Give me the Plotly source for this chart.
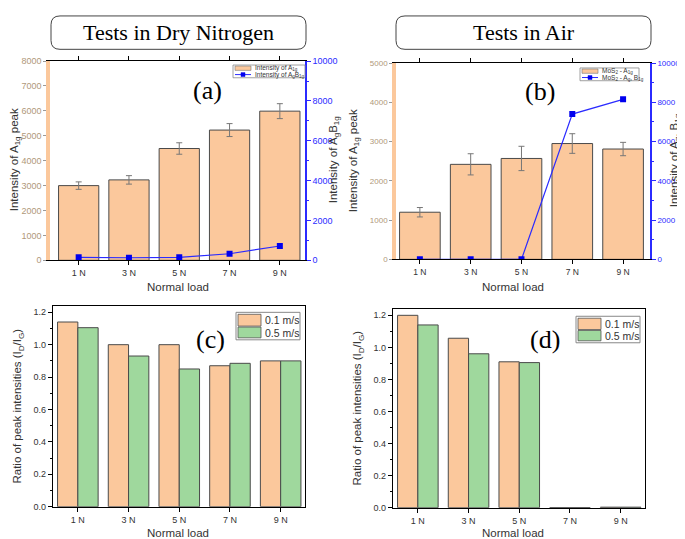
import plotly.graph_objects as go

loads = ["1 N", "3 N", "5 N", "7 N", "9 N"]
# (a) dry nitrogen
a_a1g = [3000, 3230, 4490, 5230, 5990]
a_a1g_err = [150, 170, 230, 260, 300]
a_agb1g = [150, 130, 150, 330, 720]
# (b) air
b_a1g = [1200, 2420, 2570, 2950, 2810]
b_a1g_err = [120, 270, 310, 250, 170]
b_agb1g = [0, 0, 0, 7400, 8150]
# (c) ratio dry nitrogen
c_01 = [1.14, 1.0, 1.0, 0.87, 0.9]
c_05 = [1.105, 0.93, 0.85, 0.885, 0.9]
# (d) ratio air
d_01 = [1.2, 1.057, 0.91, 0.0, 0.003]
d_05 = [1.14, 0.96, 0.905, 0.0, 0.003]

W, H = 685, 539
ORANGE = "#fbc89c"
GREEN = "#9fd89d"
BLUE = "#2b2bff"
TAN = "#b0987a"
EDGE = "#4a4a4a"
SANS = "Liberation Sans, Arial, sans-serif"
SERIF = "Liberation Serif, Times New Roman, serif"


def px(x0, x1):
    return [x0 / W, x1 / W]


def py(top, bottom):
    return [1 - bottom / H, 1 - top / H]


fig = go.Figure()

# ---- (a)
fig.add_trace(go.Bar(x=loads, y=a_a1g, name="Intensity of A<sub>1g</sub>",
                     marker=dict(color=ORANGE, line=dict(color=EDGE, width=1)),
                     error_y=dict(type="data", array=a_a1g_err, color="#777777", thickness=1, width=3),
                     xaxis="x", yaxis="y"))
fig.add_trace(go.Scatter(x=loads, y=a_agb1g, name="Intensity of A<sub>g</sub>B<sub>1g</sub>",
                         mode="lines+markers", line=dict(color=BLUE, width=1.2),
                         marker=dict(symbol="square", size=6, color="#0000ee"),
                         xaxis="x", yaxis="y2"))
# ---- (b)
fig.add_trace(go.Bar(x=loads, y=b_a1g, name="MoS<sub>2</sub> - A<sub>1g</sub>",
                     marker=dict(color=ORANGE, line=dict(color=EDGE, width=1)),
                     error_y=dict(type="data", array=b_a1g_err, color="#777777", thickness=1, width=3),
                     xaxis="x2", yaxis="y3"))
fig.add_trace(go.Scatter(x=loads, y=b_agb1g, name="MoS<sub>2</sub> - A<sub>g</sub>, B<sub>1g</sub>",
                         mode="lines+markers", line=dict(color=BLUE, width=1.2),
                         marker=dict(symbol="square", size=6, color="#0000ee"),
                         xaxis="x2", yaxis="y4"))
# ---- (c)
fig.add_trace(go.Bar(x=loads, y=c_01, name="0.1 m/s",
                     marker=dict(color=ORANGE, line=dict(color=EDGE, width=1)),
                     xaxis="x3", yaxis="y5"))
fig.add_trace(go.Bar(x=loads, y=c_05, name="0.5 m/s",
                     marker=dict(color=GREEN, line=dict(color=EDGE, width=1)),
                     xaxis="x3", yaxis="y5"))
# ---- (d)
fig.add_trace(go.Bar(x=loads, y=d_01, name="0.1 m/s",
                     marker=dict(color=ORANGE, line=dict(color=EDGE, width=1)),
                     xaxis="x4", yaxis="y6"))
fig.add_trace(go.Bar(x=loads, y=d_05, name="0.5 m/s",
                     marker=dict(color=GREEN, line=dict(color=EDGE, width=1)),
                     xaxis="x4", yaxis="y6"))

tickf = dict(family=SANS, size=9, color="#333333")


def xax(domain, anchor, rng, mirror, fs=9):
    return dict(domain=domain, anchor=anchor, type="category", range=rng,
                showline=True, linecolor="black", linewidth=1.2, mirror=mirror,
                ticks="outside", ticklen=4, tickcolor="black",
                tickfont=dict(family=SANS, size=fs, color="#333333"),
                showgrid=False, zeroline=False, fixedrange=True)


def left_int(domain, anchor, top, fs):
    return dict(domain=domain, anchor=anchor, range=[0, top], dtick=1000, tickformat="d",
                showline=True, linecolor=ORANGE, linewidth=3.5, ticks="outside",
                ticklen=3, tickcolor="#999999", tickfont=dict(family=SANS, size=fs, color=TAN),
                showgrid=False, zeroline=False)


def right_int(over, anchor, fs):
    return dict(overlaying=over, side="right", anchor=anchor, range=[0, 10000], dtick=2000,
                tickformat="d", showline=True, linecolor=BLUE, linewidth=1.6, ticks="outside",
                ticklen=4, tickcolor=BLUE, tickfont=dict(family=SANS, size=fs, color=BLUE),
                minor=dict(ticks="outside", ticklen=2, dtick=1000, tickcolor=BLUE),
                showgrid=False, zeroline=False)


def ratio_ax(domain, anchor, top):
    return dict(domain=domain, anchor=anchor, range=[0, top], dtick=0.2, tickformat=".1f",
                showline=True, linecolor="black", linewidth=1.2, mirror=True, ticks="outside",
                ticklen=4, tickcolor="black", tickfont=tickf,
                minor=dict(ticks="outside", ticklen=2, dtick=0.1, tickcolor="black"),
                showgrid=False, zeroline=False)


lay = dict(
    width=W, height=H, margin=dict(l=0, r=0, t=0, b=0),
    paper_bgcolor="white", plot_bgcolor="white",
    barmode="group", bargap=0.2, bargroupgap=0.0, showlegend=False,
    font=dict(family=SANS, color="#333333"),
)
lay["xaxis"] = xax(px(42, 297), "y", [-0.57, 4.5], "ticks")
lay["yaxis"] = left_int(py(49, 252), "x", 8000, 9)
lay["yaxis2"] = right_int("y", "x", 9)
lay["xaxis2"] = xax(px(388, 642), "y3", [-0.47, 4.53], "ticks", 8.5)
lay["yaxis3"] = left_int(py(51, 251), "x2", 5000, 8)
lay["yaxis4"] = right_int("y3", "x2", 8)
lay["xaxis3"] = xax(px(45, 297), "y5", [-0.49, 4.48], True)
lay["yaxis5"] = ratio_ax(py(299, 503), "x3", 1.236)
lay["xaxis4"] = xax(px(385, 637), "y6", [-0.49, 4.48], True)
lay["yaxis6"] = ratio_ax(py(302, 504), "x4", 1.237)
fig.update_layout(**lay)


def rounded_box(x0, y0, x1, y1, r=9):
    X0, X1 = x0 / W, x1 / W
    Y0, Y1 = 1 - y0 / H, 1 - y1 / H
    rx, ry = r / W, r / H
    return (f"M {X0 + rx},{Y0} L {X1 - rx},{Y0} Q {X1},{Y0} {X1},{Y0 - ry} "
            f"L {X1},{Y1 + ry} Q {X1},{Y1} {X1 - rx},{Y1} L {X0 + rx},{Y1} "
            f"Q {X0},{Y1} {X0},{Y1 + ry} L {X0},{Y0 - ry} Q {X0},{Y0} {X0 + rx},{Y0} Z")


for (x0, x1) in [(43, 298), (388, 643)]:
    fig.add_shape(type="path", path=rounded_box(x0, 3, x1, 37), xref="paper", yref="paper",
                  line=dict(color="#444", width=1), fillcolor="white", layer="below")


def prect(x0, y0, x1, y1, fill, line="#888", lw=1):
    fig.add_shape(type="rect", xref="paper", yref="paper",
                  x0=x0 / W, x1=x1 / W, y0=1 - y1 / H, y1=1 - y0 / H,
                  fillcolor=fill, line=dict(color=line, width=lw), layer="above")


def pline(x0, y0, x1, y1, col, lw=1):
    fig.add_shape(type="line", xref="paper", yref="paper",
                  x0=x0 / W, x1=x1 / W, y0=1 - y0 / H, y1=1 - y1 / H,
                  line=dict(color=col, width=lw), layer="above")


def text(t, x, y, size, fam=SANS, col="#333", xanchor="center", angle=0):
    fig.add_annotation(text=t, x=x / W, y=1 - y / H, xref="paper", yref="paper",
                       showarrow=False, xanchor=xanchor, yanchor="middle", textangle=angle,
                       font=dict(family=fam, size=size, color=col))


# small legends for (a) and (b)
def small_legend(x0, y0, x1, y1, labels):
    prect(x0, y0, x1, y1, "white", "#888", 0.8)
    rh = (y1 - y0) / 2
    r1 = y0 + rh / 2
    r2 = y0 + rh * 1.5
    prect(x0 + 2, r1 - 2.2, x0 + 18, r1 + 2.2, ORANGE, "#777", 0.6)
    pline(x0 + 2, r2, x0 + 18, r2, BLUE, 1)
    prect(x0 + 8, r2 - 2, x0 + 12, r2 + 2, "#0000ee", "#0000ee", 0.5)
    text(labels[0], x0 + 20, r1, 6.5, xanchor="left")
    text(labels[1], x0 + 20, r2 + 0.5, 6.5, xanchor="left")


small_legend(225, 53, 297, 66, [fig.data[0].name, fig.data[1].name])
small_legend(572, 56, 631, 69, [fig.data[2].name, fig.data[3].name])


def big_legend(x0, y0, x1, y1, labels):
    prect(x0, y0, x1, y1, "white", "#888", 1)
    rh = (y1 - y0) / 2
    prect(x0 + 2, y0 + 2, x0 + 25, y0 + rh, ORANGE, "#555", 0.8)
    prect(x0 + 2, y0 + rh + 1, x0 + 25, y1 - 2, GREEN, "#555", 0.8)
    text(labels[0], x0 + 27, y0 + rh / 2 + 1, 10.5, xanchor="left")
    text(labels[1], x0 + 27, y0 + rh * 1.5, 10.5, xanchor="left")


big_legend(228, 305, 292, 333, [fig.data[4].name, fig.data[5].name])
big_legend(568, 309, 632, 336, [fig.data[6].name, fig.data[7].name])

# titles and labels
text("Tests in Dry Nitrogen", 170.5, 20, 22, SERIF, "black")
text("Tests in Air", 515.5, 20, 22, SERIF, "black")
text("(a)", 200, 79, 26, SERIF, "black")
text("(b)", 532, 80, 26, SERIF, "black")
text("(c)", 202, 333, 26, SERIF, "black")
text("(d)", 537, 333, 26, SERIF, "black")
for (x, y) in [(170, 279), (505, 279), (170, 530), (505, 530)]:
    text("Normal load", x, y, 11.5)

text("Intensity of A<sub>1g</sub> peak", 7, 150, 11.5, angle=-90)
text("Intensity of A<sub>g</sub>B<sub>1g</sub>", 326, 150, 11.5, angle=-90)
text("Intensity of A<sub>1g</sub> peak", 346, 151, 11.5, angle=-90)
text("Intensity of A<sub>g</sub>, B<sub>1g</sub>", 667, 151, 11.5, angle=-90)
text("Ratio of peak intensities (I<sub>D</sub>/I<sub>G</sub>)", 10, 401, 11.5, angle=-90)
text("Ratio of peak intensities (I<sub>D</sub>/I<sub>G</sub>)", 350, 403, 11.5, angle=-90)

fig.write_html("out.html")
